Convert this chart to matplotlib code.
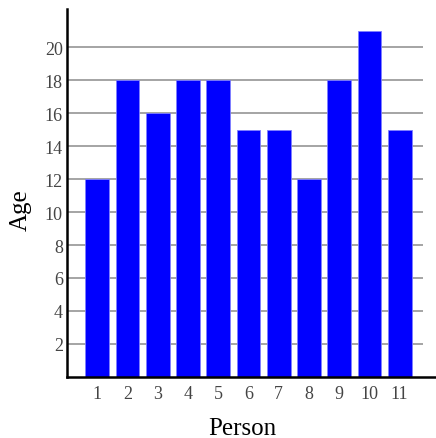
import matplotlib
matplotlib.use('Agg')
import matplotlib.pyplot as plt

# Ages per person
persons = [1, 2, 3, 4, 5, 6, 7, 8, 9, 10, 11]
ages = [12, 18, 16, 18, 18, 15, 15, 12, 18, 21, 15]
yticks = [2, 4, 6, 8, 10, 12, 14, 16, 18, 20]

plt.rcParams['font.family'] = ['Liberation Serif', 'DejaVu Serif']

fig = plt.figure(figsize=(4.36, 4.39), dpi=100)
ax = fig.add_axes([0.1537, 0.139, 0.8463, 0.838])

# horizontal gridlines, stopping short of the right end of the axis
ax.hlines(yticks, 0, 11.76, color='#8c8c8c', linewidth=1.1, zorder=1)
ax.bar(persons, ages, width=0.79, color='#0000ff', edgecolor='#8080ff',
       linewidth=0.6, zorder=2)

ax.set_xlim(0, 12.2)
ax.set_ylim(0, 22.3)
ax.set_xticks(persons)
ax.set_yticks(yticks)
ax.tick_params(length=0, labelsize=13, labelcolor='#444444')
ax.tick_params(axis='x', pad=6)
ax.tick_params(axis='y', pad=3)

ax.spines['top'].set_visible(False)
ax.spines['right'].set_visible(False)
ax.spines['left'].set_linewidth(1.8)
ax.spines['bottom'].set_linewidth(1.8)

ax.set_xlabel('Person', fontsize=18)
ax.set_ylabel('Age', fontsize=18)
ax.xaxis.set_label_coords(0.474, -0.11)
ax.yaxis.set_label_coords(-0.095, 0.457)

fig.savefig('out.png', dpi=100)
